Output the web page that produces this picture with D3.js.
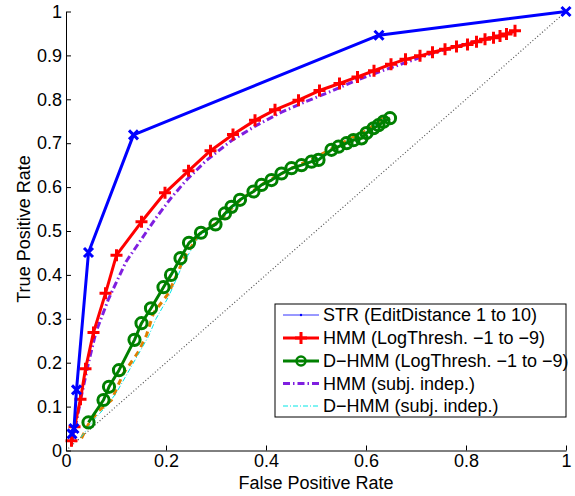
<!DOCTYPE html>
<html><head><meta charset="utf-8">
<script src="https://cdn.jsdelivr.net/npm/d3@7"></script>
<style>body{margin:0;background:#fff}svg{display:block;font-family:"Liberation Sans",Arial,sans-serif}</style>
</head><body><svg id="c" width="575" height="496"></svg>
<script>
const xTicks=[0,0.2,0.4,0.6,0.8,1];
const yTicks=[0,0.1,0.2,0.3,0.4,0.5,0.6,0.7,0.8,0.9,1];
const xTickLabels=["0","0.2","0.4","0.6","0.8","1"];
const yTickLabels=["0","0.1","0.2","0.3","0.4","0.5","0.6","0.7","0.8","0.9","1"];
const legendLabels=["STR (EditDistance 1 to 10)","HMM (LogThresh. \u22121 to \u22129)","D\u2212HMM (LogThresh. \u22121 to \u22129)","HMM (subj. indep.)","D\u2212HMM (subj. indep.)"];

const strFPR=[0.012,0.016,0.021,0.045,0.135,0.626,1];
const strTPR=[0.038,0.05,0.138,0.451,0.719,0.946,1];

const hmmFPR=[0.011,0.017,0.029,0.039,0.055,0.079,0.101,0.151,0.198,0.245,0.289,0.334,0.378,0.418,0.465,0.507,0.547,0.583,0.616,0.650,0.679,0.708,0.733,0.758,0.781,0.803,0.821,0.838,0.855,0.868,0.881,0.898];
const hmmTPR=[0.022,0.054,0.117,0.186,0.269,0.358,0.445,0.521,0.587,0.637,0.683,0.720,0.752,0.776,0.798,0.820,0.836,0.851,0.865,0.880,0.891,0.899,0.907,0.914,0.920,0.925,0.931,0.937,0.940,0.944,0.949,0.956];

const dhmmFPR=[0.045,0.075,0.086,0.106,0.137,0.151,0.170,0.195,0.210,0.229,0.246,0.270,0.299,0.318,0.331,0.348,0.375,0.391,0.411,0.431,0.451,0.471,0.491,0.505,0.531,0.545,0.561,0.575,0.591,0.601,0.615,0.625,0.635,0.648];
const dhmmTPR=[0.064,0.115,0.145,0.183,0.252,0.290,0.324,0.372,0.400,0.438,0.473,0.496,0.515,0.540,0.555,0.571,0.590,0.605,0.616,0.631,0.643,0.650,0.658,0.662,0.685,0.692,0.700,0.707,0.711,0.723,0.734,0.741,0.749,0.757];

const hmmSiFPR=[0.012,0.02,0.03,0.045,0.06,0.085,0.12,0.15,0.18,0.21,0.24,0.28,0.33,0.38,0.43,0.48,0.53,0.58,0.63,0.68,0.73,0.78,0.83,0.87,0.895];
const hmmSiTPR=[0.02,0.06,0.12,0.2,0.27,0.345,0.43,0.48,0.53,0.575,0.615,0.66,0.705,0.74,0.77,0.795,0.818,0.843,0.864,0.884,0.904,0.92,0.935,0.946,0.954];

const dhmmSiFPR=[0.031,0.045,0.065,0.091,0.115,0.145,0.161,0.175,0.205,0.236,0.268,0.30,0.35,0.40,0.45,0.50,0.55,0.60,0.638];
const dhmmSiTPR=[0.028,0.06,0.09,0.115,0.176,0.225,0.263,0.313,0.358,0.438,0.495,0.517,0.572,0.612,0.642,0.668,0.699,0.728,0.760];

const dhmmSi2FPR=[0.03,0.055,0.08,0.10,0.12,0.145,0.165,0.18,0.205,0.236,0.268,0.30,0.35,0.40,0.45,0.50,0.55,0.60,0.636];
const dhmmSi2TPR=[0.03,0.069,0.10,0.13,0.17,0.22,0.26,0.30,0.35,0.43,0.49,0.514,0.57,0.61,0.64,0.665,0.697,0.726,0.757];

const svg=d3.select("#c");
const x=d3.scaleLinear().domain([0,1]).range([66,566]);
const y=d3.scaleLinear().domain([0,1]).range([450.5,11.5]);
const zip=(a,b)=>a.map((v,i)=>[v,b[i]]);
const line=d3.line().x(d=>x(d[0])).y(d=>y(d[1]));

// diagonal
svg.append("path").attr("d",line([[0,0],[1,1]])).attr("fill","none").attr("stroke","#555").attr("stroke-width",1.2).attr("stroke-dasharray","1 2.2");

function drawLine(data,color,w,dash){
  svg.append("path").attr("d",line(data)).attr("fill","none").attr("stroke",color).attr("stroke-width",w).attr("stroke-dasharray",dash||null).attr("stroke-linejoin","round");
}
const plus=(g,px,py,s,c,w)=>{g.append("path").attr("d",`M${px-s},${py}H${px+s}M${px},${py-s}V${py+s}`).attr("stroke",c).attr("stroke-width",w).attr("fill","none");};
const cross=(g,px,py,s,c,w)=>{g.append("path").attr("d",`M${px-s},${py-s}L${px+s},${py+s}M${px-s},${py+s}L${px+s},${py-s}`).attr("stroke",c).attr("stroke-width",w).attr("fill","none");};

const orange="#e07f00", purple="#7f1fe0", green="#008000";
drawLine(zip(dhmmSiFPR,dhmmSiTPR),orange,3,"6 5");
drawLine(zip(dhmmSi2FPR,dhmmSi2TPR),"#00e5e5",1,"5 2 1 2");
drawLine(zip(hmmSiFPR,hmmSiTPR),purple,3,"7 3 1.5 3");

drawLine(zip(dhmmFPR,dhmmTPR),green,3);
const gG=svg.append("g");
zip(dhmmFPR,dhmmTPR).forEach(d=>gG.append("circle").attr("cx",x(d[0])).attr("cy",y(d[1])).attr("r",5.6).attr("fill","none").attr("stroke",green).attr("stroke-width",3));

drawLine(zip(hmmFPR,hmmTPR),"#ff0000",3);
const gR=svg.append("g");
zip(hmmFPR,hmmTPR).forEach(d=>plus(gR,x(d[0]),y(d[1]),6,"#ff0000",3));

drawLine(zip(strFPR,strTPR),"#0000ff",3);
const gB=svg.append("g");
zip(strFPR,strTPR).forEach(d=>cross(gB,x(d[0]),y(d[1]),4.5,"#0000ff",3));

// axes
const xa=d3.axisBottom(x).tickValues(xTicks).tickFormat((d,i)=>xTickLabels[i]).tickSizeInner(-5).tickSizeOuter(0).tickPadding(4);
const ya=d3.axisLeft(y).tickValues(yTicks).tickFormat((d,i)=>yTickLabels[i]).tickSizeInner(-5).tickSizeOuter(0).tickPadding(4);
const gx=svg.append("g").attr("transform","translate(0,450.5)").call(xa);
const gy=svg.append("g").attr("transform","translate(66,0)").call(ya);
[gx,gy].forEach(g=>{g.select(".domain").attr("stroke","#000").attr("stroke-width",1);g.selectAll("line").attr("stroke","#000");g.selectAll("text").attr("font-size",18).attr("fill","#000").attr("font-family","Liberation Sans, Arial, sans-serif");});

svg.append("text").attr("x",316).attr("y",489).attr("text-anchor","middle").attr("font-size",18).text("False Positive Rate");
svg.append("text").attr("transform","translate(30,229) rotate(-90)").attr("text-anchor","middle").attr("font-size",18).text("True Positive Rate");

// legend
const lg=svg.append("g");
lg.append("rect").attr("x",275).attr("y",304).attr("width",291).attr("height",113).attr("fill","#fff").attr("stroke","#000").attr("stroke-width",1);
const rows=[315,338,361,383.5,406];
const lx1=283,lx2=319,lm=(lx1+lx2)/2;
const sty=[{c:"#3333ff",w:1},{c:"#ff0000",w:3},{c:green,w:3},{c:purple,w:3,d:"7 3 1.5 3"},{c:"#00e5e5",w:1,d:"5 2 1 2"}];
rows.forEach((ry,i)=>{
  lg.append("line").attr("x1",lx1).attr("x2",lx2).attr("y1",ry).attr("y2",ry).attr("stroke",sty[i].c).attr("stroke-width",sty[i].w).attr("stroke-dasharray",sty[i].d||null);
  lg.append("text").attr("x",323).attr("y",ry).attr("dy","0.35em").attr("font-size",18).text(legendLabels[i]);
});
lg.append("circle").attr("cx",lm).attr("cy",rows[0]).attr("r",1.2).attr("fill","#0000ff");
plus(lg,lm,rows[1],6,"#ff0000",3);
lg.append("circle").attr("cx",lm).attr("cy",rows[2]).attr("r",4.5).attr("fill","none").attr("stroke",green).attr("stroke-width",2.5);
</script></body></html>
